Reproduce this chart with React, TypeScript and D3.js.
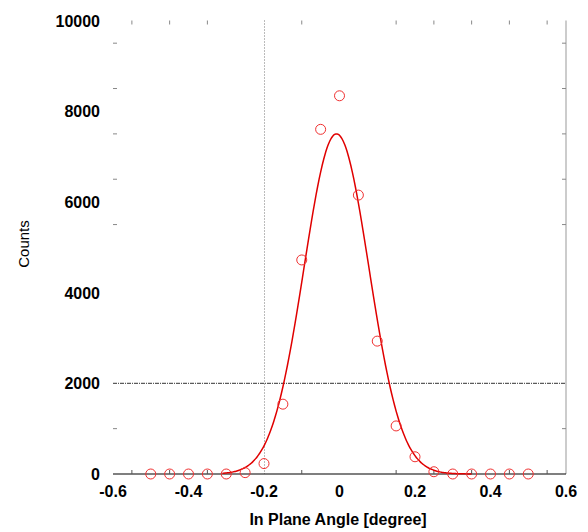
import React from "react";
import * as d3 from "d3";

const angles = [-0.5, -0.45, -0.4, -0.35, -0.3, -0.25, -0.2, -0.15, -0.1, -0.05, 0, 0.05, 0.1, 0.15, 0.2, 0.25, 0.3, 0.35, 0.4, 0.45, 0.5];
const counts = [0, 0, 0, 0, 0, 30, 230, 1540, 4720, 7600, 8340, 6150, 2930, 1060, 380, 50, 0, 0, 0, 0, 0];

// Gaussian fit parameters
const fitAmplitude = 7500;
const fitCenter = -0.008;
const fitSigma = 0.086;
const fitRange = [-0.31, 0.35];

const xTickLabels = [-0.6, -0.4, -0.2, 0, 0.2, 0.4, 0.6];
const yTickLabels = [0, 2000, 4000, 6000, 8000, 10000];
const xMinorTicks = [-0.55, -0.45, -0.35, -0.1, 0.15, 0.25, 0.35, 0.45, 0.55];
const yMinorTicks = [1000, 5500, 6500, 7500, 8500, 9500];
const hGrid = [2000];
const vGrid = [-0.2];

const W = 588, H = 532;
const L = 113, R = 566, T = 20.5, B = 474;
const FONT = "'Liberation Sans', Arial, sans-serif";

export default function App() {
  const x = d3.scaleLinear().domain([-0.6, 0.6]).range([L, R]);
  const y = d3.scaleLinear().domain([0, 10000]).range([B, T]);

  const fitXs = d3.range(fitRange[0], fitRange[1] + 1e-9, 0.004);
  const fitPts: [number, number][] = fitXs.map((a) => [
    a,
    fitAmplitude * Math.exp(-((a - fitCenter) ** 2) / (2 * fitSigma * fitSigma)),
  ]);
  const line = d3
    .line<[number, number]>()
    .x((d) => x(d[0]))
    .y((d) => y(d[1]))
    .curve(d3.curveMonotoneX);

  const fmtX = (v: number) => (v === 0 ? "0" : String(v));

  return (
    <svg width={W} height={H} style={{ position: "absolute", left: 0, top: 0, background: "#fff" }} fontFamily={FONT}>
      <rect x={0} y={0} width={W} height={H} fill="#fff" />
      {/* vertical dotted grid */}
      {vGrid.map((v) => (
        <line key={v} x1={x(v) + 0.5} x2={x(v) + 0.5} y1={T} y2={B} stroke="#777" strokeWidth={1} strokeDasharray="1,2" />
      ))}
      {/* horizontal dash-dot grid */}
      {hGrid.map((v) => (
        <line key={v} x1={L} x2={R} y1={y(v)} y2={y(v)} stroke="#333" strokeWidth={1} strokeDasharray="4,1,1,1" />
      ))}
      {/* right axis */}
      <line x1={R} x2={R} y1={T} y2={B} stroke="#aaa" strokeWidth={1.2} />
      {/* bottom axis */}
      <line x1={L} x2={R} y1={B} y2={B} stroke="#000" strokeWidth={1.2} />
      {/* minor ticks x */}
      {xMinorTicks.map((v) => (
        <g key={v}>
          <line x1={x(v)} x2={x(v)} y1={B} y2={B - 4} stroke="#555" strokeWidth={1} />
          <line x1={x(v)} x2={x(v)} y1={T} y2={T + 4} stroke="#888" strokeWidth={1} />
        </g>
      ))}
      {/* minor ticks y */}
      {yMinorTicks.map((v) => (
        <g key={v}>
          <line x1={L} x2={L + 4} y1={y(v)} y2={y(v)} stroke="#888" strokeWidth={1} />
          <line x1={R} x2={R - 4} y1={y(v)} y2={y(v)} stroke="#888" strokeWidth={1} />
        </g>
      ))}
      {/* fit curve */}
      <path d={line(fitPts) || ""} fill="none" stroke="#e00000" strokeWidth={1.5} />
      {/* data points */}
      {angles.map((a, i) => (
        <circle key={a} cx={x(a)} cy={y(counts[i])} r={5} fill="none" stroke="#f03030" strokeWidth={1} />
      ))}
      {/* y tick labels */}
      {yTickLabels.map((v) => (
        <text key={v} x={100} y={y(v) + 6} textAnchor="end" fontSize={16} fontWeight="bold" fill="#000">
          {v}
        </text>
      ))}
      {/* x tick labels */}
      {xTickLabels.map((v) => (
        <text key={v} x={x(v)} y={497} textAnchor="middle" fontSize={16} fontWeight="bold" fill="#000">
          {fmtX(v)}
        </text>
      ))}
      <text x={338} y={525} textAnchor="middle" fontSize={16} fontWeight="bold" fill="#000">
        In Plane Angle [degree]
      </text>
      <text transform={`translate(29,244) rotate(-90)`} textAnchor="middle" fontSize={15} fill="#000">
        Counts
      </text>
    </svg>
  );
}
